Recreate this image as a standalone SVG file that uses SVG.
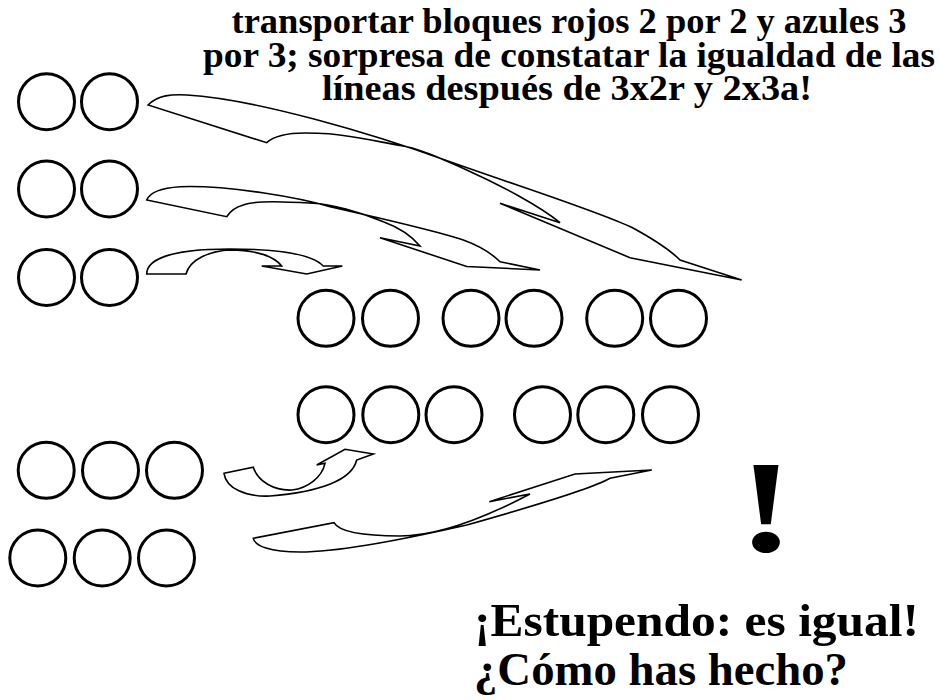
<svg xmlns="http://www.w3.org/2000/svg" width="940" height="700" viewBox="0 0 940 700">
  <style>
    .blk { fill: #ffffff; stroke: #000000; stroke-width: 3; }
    .arr { fill: none; stroke: #000000; stroke-width: 1.6; stroke-linejoin: miter; }
  </style>

  <!-- heading -->
  <g id="heading" font-family="'Liberation Serif', 'Times New Roman', Times, Tinos, serif" font-weight="700" font-size="35" text-anchor="middle" fill="#000">
    <text x="569" y="33" textLength="675" lengthAdjust="spacingAndGlyphs">transportar bloques rojos 2 por 2 y azules 3</text>
    <text x="569" y="67" textLength="732" lengthAdjust="spacingAndGlyphs">por 3; sorpresa de constatar la igualdad de las</text>
    <text x="567" y="100" textLength="490" lengthAdjust="spacingAndGlyphs">líneas después de 3x2r y 2x3a!</text>
  </g>

  <!-- pairs of blocks on the left -->
  <g id="pair-1">
    <circle class="blk" cx="46.5" cy="101.7" r="28"/>
    <circle class="blk" cx="109.5" cy="101.7" r="28"/>
  </g>
  <g id="pair-2">
    <circle class="blk" cx="46.5" cy="189" r="28"/>
    <circle class="blk" cx="109.5" cy="189" r="28"/>
  </g>
  <g id="pair-3">
    <circle class="blk" cx="46.5" cy="277.5" r="28"/>
    <circle class="blk" cx="109.5" cy="277.5" r="28"/>
  </g>

  <!-- pairs placed in a line -->
  <g id="line-pairs">
    <circle class="blk" cx="326" cy="318.3" r="28"/>
    <circle class="blk" cx="390.5" cy="318.3" r="28"/>
    <circle class="blk" cx="471" cy="318.3" r="28"/>
    <circle class="blk" cx="534" cy="318.3" r="28"/>
    <circle class="blk" cx="614.7" cy="318.3" r="28"/>
    <circle class="blk" cx="678.5" cy="318.3" r="28"/>
  </g>

  <!-- triples placed in a line -->
  <g id="line-triples">
    <circle class="blk" cx="326" cy="414.7" r="28"/>
    <circle class="blk" cx="390.8" cy="414.7" r="28"/>
    <circle class="blk" cx="454" cy="414.7" r="28"/>
    <circle class="blk" cx="542.5" cy="414.7" r="28"/>
    <circle class="blk" cx="605.8" cy="414.7" r="28"/>
    <circle class="blk" cx="670.5" cy="414.7" r="28"/>
  </g>

  <!-- triples on the left -->
  <g id="triple-1">
    <circle class="blk" cx="46.2" cy="470.3" r="28"/>
    <circle class="blk" cx="110.5" cy="470.3" r="28"/>
    <circle class="blk" cx="174.5" cy="470.3" r="28"/>
  </g>
  <g id="triple-2">
    <circle class="blk" cx="37.8" cy="558" r="28"/>
    <circle class="blk" cx="102.2" cy="558" r="28"/>
    <circle class="blk" cx="166.5" cy="558" r="28"/>
  </g>

  <!-- curved block arrows -->
  <g id="connectors" class="arr">
    <path d="M148,105 C158,95 172,94 187,95 C255,99 370,133 450,161.7 C530,190 600,212 633,228 C655,240 670,250 680,260 L741.7,280 L630,257.7 L500,203.3 L560,222.7 C540,206 500,185 466.7,170 C440,158 415,147 400,145.5 C370,140 340,133 316.7,133.3 C295,132 276,134 266.7,142.7 Z"/>
    <path d="M146.7,200 C150,192 160,188 180,186.7 C230,185 300,198 330,206.7 C380,218 440,232 463.3,240 C480,246 490,252 500,261.7 L540,270 L466.7,266.5 L380,237.7 L420,246 C410,234 395,226 383.3,221.7 C360,212 330,204 313.3,203.3 C290,202 255,200 243.3,205 C236,207 231,210 226.7,216.7 Z"/>
    <path d="M146.7,274 C147,258 175,249 230,249 C270,249 310,252 323.3,266 L342.3,266 L306.7,274 L261.7,266 L281.7,266 C275,257 258,250 230,250 C210,251 190,259 186,274 Z"/>
    <path d="M224,473.3 L253.3,467.3 C258,482 275,491 292,490 C308,488 322,477 325,463.3 L316.7,465 L345,449.3 L373.3,454 L356.7,460 C352,480 320,492 270,496 C245,497 226,488 224,473.3 Z"/>
    <path d="M253.3,538.3 L334,522.7 C338,530 355,536 400,536 C440,536 490,515 530,494 L489.3,501.7 L575,474 L651.7,470 L610,478.3 C590,490 520,510 466.7,525 C410,538 340,552 300,552 C270,552 255,546 253.3,538.3 Z"/>
  </g>

  <!-- exclamation -->
  <g id="exclamation" font-family="'Liberation Serif', 'Times New Roman', Times, Tinos, serif" font-weight="700" fill="#000">
    <text transform="translate(766,551) scale(1.3,1)" x="0" y="0" font-size="132" text-anchor="middle">!</text>
  </g>

  <!-- closing remark -->
  <g id="remark" font-family="'Liberation Serif', 'Times New Roman', Times, Tinos, serif" font-weight="700" font-size="47" fill="#000">
    <text x="474" y="636" textLength="445" lengthAdjust="spacingAndGlyphs">¡Estupendo: es igual!</text>
    <text x="474" y="685" textLength="374" lengthAdjust="spacingAndGlyphs">¿Cómo has hecho?</text>
  </g>
</svg>
